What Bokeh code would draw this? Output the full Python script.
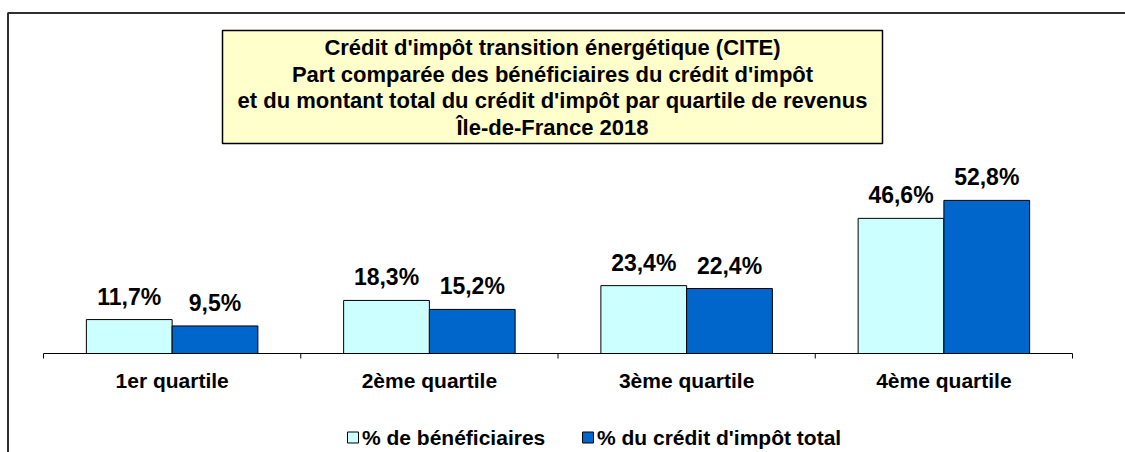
from bokeh.plotting import figure
from bokeh.core.properties import value
from bokeh.embed import file_html
from bokeh.resources import INLINE

# ---------------- data ----------------
categories = ["1er quartile", "2ème quartile", "3ème quartile", "4ème quartile"]
beneficiaires = [11.7, 18.3, 23.4, 46.6]
credit = [9.5, 15.2, 22.4, 52.8]
series_names = ["% de bénéficiaires", "% du crédit d'impôt total"]
series_colors = ["#CCFFFF", "#0066CC"]
title_lines = [
    "Crédit d'impôt transition énergétique (CITE)",
    "Part comparée des bénéficiaires du crédit d'impôt",
    "et du montant total du crédit d'impôt par quartile de revenus",
    "Île-de-France 2018",
]

# ---------------- layout ----------------
W, H = 1125, 452
PX_X = 257.25      # pixels per category
PX_Y = 2.9         # pixels per percentage point
X_LEFT = 43        # canvas px from left edge to axis start
Y_ZERO = 353       # canvas px from top to baseline

x0 = -X_LEFT / PX_X
x1 = x0 + W / PX_X
y1 = Y_ZERO / PX_Y
y0 = y1 - H / PX_Y


def sx(px):
    return x0 + px / PX_X


def sy(py):
    return y1 - py / PX_Y


FONT = value("Liberation Sans")

p = figure(width=W, height=H, x_range=(x0, x1), y_range=(y0, y1),
           output_backend="svg", toolbar_location=None,
           x_axis_location=None, y_axis_location=None,
           min_border=0, min_border_left=0, min_border_right=0,
           min_border_top=0, min_border_bottom=0)
p.outline_line_color = None
p.xgrid.visible = False
p.ygrid.visible = False
p.background_fill_color = "white"
p.border_fill_color = "white"

# outer chart border (left + top visible)
p.line(x=[sx(7.5), sx(7.5), sx(W)], y=[sy(H), sy(12.5), sy(12.5)],
       line_color="#303030", line_width=2)

n = len(categories)
centers = [i + 0.5 for i in range(n)]
bw = 1 / 3
xl = [c - bw / 2 for c in centers]
xd = [c + bw / 2 for c in centers]

p.vbar(x=xl, top=beneficiaires, width=bw, bottom=0,
       fill_color=series_colors[0], line_color="black", line_width=1)
p.vbar(x=xd, top=credit, width=bw, bottom=0,
       fill_color=series_colors[1], line_color="black", line_width=1)

# category axis line + boundary ticks
p.segment(x0=[0], y0=[0], x1=[n], y1=[0], line_color="black", line_width=1)
p.segment(x0=list(range(n + 1)), y0=[0] * (n + 1),
          x1=list(range(n + 1)), y1=[-5 / PX_Y] * (n + 1),
          line_color="black", line_width=1)

# category labels
p.text(x=centers, y=[0] * n, text=categories, y_offset=27,
       text_align="center", text_baseline="middle",
       text_font=FONT, text_font_style="bold", text_font_size="21px",
       text_color="black")


def fmt(v):
    return f"{v:.1f}".replace(".", ",") + "%"


p.text(x=xl, y=beneficiaires, text=[fmt(v) for v in beneficiaires],
       y_offset=-23, text_align="center", text_baseline="middle",
       text_font=FONT, text_font_style="bold", text_font_size="23px",
       text_color="black")
p.text(x=xd, y=credit, text=[fmt(v) for v in credit],
       y_offset=-23, text_align="center", text_baseline="middle",
       text_font=FONT, text_font_style="bold", text_font_size="23px",
       text_color="black")

# title box
p.quad(left=[sx(222)], right=[sx(882)], top=[sy(30)], bottom=[sy(143)],
       fill_color="#FFFFCC", line_color="black", line_width=1.5)
title_y = [47, 73.5, 100, 126.5]
p.text(x=[sx(552)] * len(title_lines), y=[sy(v) for v in title_y],
       text=title_lines, text_align="center", text_baseline="middle",
       text_font=FONT, text_font_style="bold", text_font_size="22px",
       text_color="black")

# legend
leg_sq_x = [352.5, 587.5]
leg_y = 437
p.scatter(x=[sx(v) for v in leg_sq_x], y=[sy(leg_y)] * 2, marker="square",
          size=11, fill_color=series_colors, line_color="black", line_width=1)
p.text(x=[sx(v + 9) for v in leg_sq_x], y=[sy(leg_y)] * 2, text=series_names,
       text_align="left", text_baseline="middle",
       text_font=FONT, text_font_style="bold", text_font_size="21px",
       text_color="black")

open("out.html", "w").write(file_html(p, INLINE))
